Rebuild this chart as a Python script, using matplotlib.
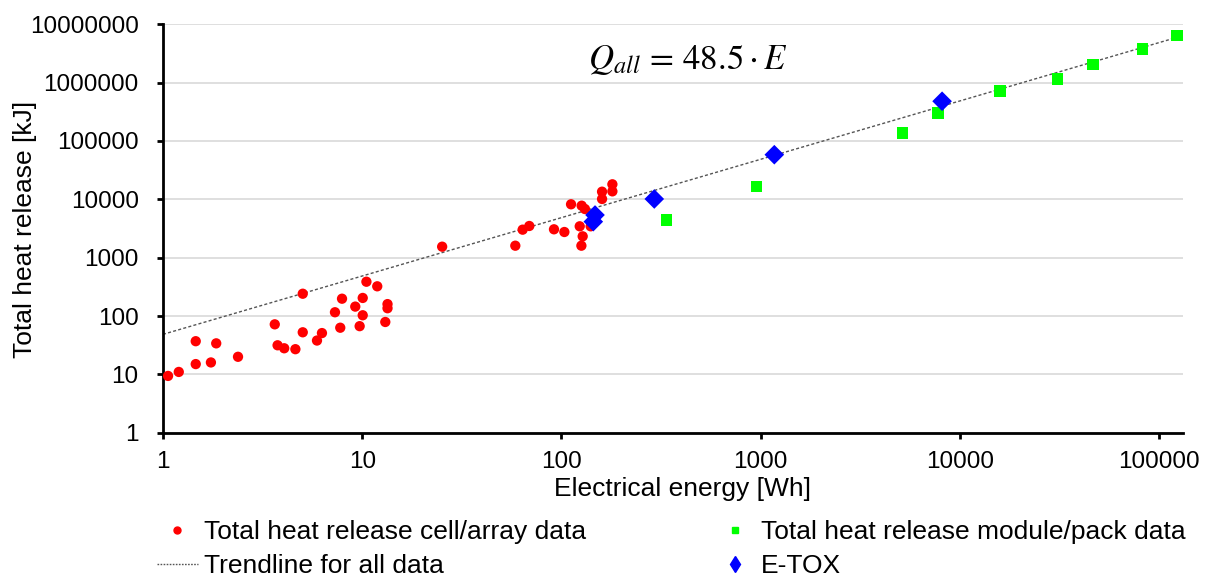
import numpy as np
import matplotlib
matplotlib.use("Agg")
import matplotlib.pyplot as plt
from matplotlib.lines import Line2D

plt.rcParams['font.family'] = ['Liberation Sans', 'DejaVu Sans']
plt.rcParams['mathtext.fontset'] = 'stix'

# Cell/array data (red)
cell_energy = [1.06, 1.20, 1.46, 1.46, 1.74, 1.85, 2.38, 3.64, 3.76, 4.06, 4.62,
               5.03, 5.03, 5.93, 6.28, 7.3, 7.76, 7.92, 9.23, 9.71, 10.06, 10.06,
               10.5, 11.9, 13.06, 13.4, 13.4,
               25.2, 58.7, 63.9, 69.0, 91.8, 103.5, 111.8, 126.4, 131.3, 123.6,
               127.9, 126.0, 140.3, 160.0, 160.0, 180.3, 180.3]
cell_heat = [9.4, 11, 15, 37, 16, 34, 20, 72, 31.5, 28, 27,
             241, 52.6, 38, 51, 116, 63, 198, 145, 67, 204, 103,
             387, 323, 79, 160, 136,
             1543, 1604, 3020, 3493, 3064, 2754, 8224, 7780, 6820, 3450,
             2322, 1604, 3450, 13520, 10140, 18100, 13700]

# Module/pack data (green)
module_energy = [336.7, 953, 5155, 7762, 15920, 30940, 46560, 82600, 123300]
module_heat = [4425, 16480, 138700, 305000, 711000, 1157000, 2060000, 3770000, 6380000]

# E-TOX data (blue)
etox_energy = [147.5, 144.6, 292.6, 1172, 8150]
etox_heat = [5390, 4140, 10140, 58200, 480000]

trend_coef = 48.5
x_min, x_max = 1, 132000
y_ticks = [1, 10, 100, 1000, 10000, 100000, 1000000, 10000000]
x_ticks = [1, 10, 100, 1000, 10000, 100000]

fig = plt.figure(figsize=(12.11, 5.80), dpi=100)
ax = fig.add_axes([163/1211, 1-432.7/580, (1183-163)/1211, (432.7-24.3)/580])

ax.set_xscale('log')
ax.set_yscale('log')
ax.set_xlim(x_min, x_max)
ax.set_ylim(1, 10000000)

ax.yaxis.grid(True, color='#d9d9d9', linewidth=1.2)
ax.xaxis.grid(False)
ax.set_axisbelow(True)

tx = np.array([x_min, x_max])
ax.plot(tx, trend_coef * tx, color='#555555', linewidth=1.0,
        dashes=(2.2, 1.6), zorder=2)

ax.scatter(cell_energy, cell_heat, s=55, marker='o', color='#ff0000',
           edgecolors='none', zorder=3)
ax.scatter(module_energy, module_heat, s=70, marker='s', color='#00ff00',
           edgecolors='none', zorder=3)
ax.scatter(etox_energy, etox_heat, s=100, marker='D', color='#0000ff',
           edgecolors='none', zorder=4)

ax.set_xticks(x_ticks)
ax.set_xticklabels([str(v) for v in x_ticks])
ax.set_yticks(y_ticks)
ax.set_yticklabels([str(v) for v in y_ticks])
ax.minorticks_off()
ax.tick_params(axis='both', which='major', direction='out', length=4.5,
               width=2, labelsize=17.5, colors='black')
ax.tick_params(axis='x', pad=9)
ax.tick_params(axis='y', pad=13)

for s in ['top', 'right']:
    ax.spines[s].set_visible(False)
for s in ['left', 'bottom']:
    ax.spines[s].set_linewidth(2)
    ax.spines[s].set_color('black')

ax.set_xlabel('Electrical energy [Wh]', fontsize=19)
ax.xaxis.set_label_coords((683-163)/(1183-163), -(477-432.7)/(432.7-24.3))
ax.set_ylabel('Total heat release [kJ]', fontsize=19)
ax.yaxis.set_label_coords(-(163-37)/(1183-163), 1-(229-24.3)/(432.7-24.3))

ax.text((688-163)/(1183-163), 1-(60-24.3)/(432.7-24.3),
        r'$Q_{all}\,=\,48.5\cdot E$', transform=ax.transAxes,
        fontsize=25, ha='center', va='center')

handles = [
    Line2D([], [], linestyle='none', marker='o', color='#ff0000', markersize=5),
    Line2D([], [], color='#555555', linewidth=1.0, dashes=(1.2, 1.0)),
    Line2D([], [], linestyle='none', marker='s', color='#00ff00', markersize=5),
    Line2D([], [], linestyle='none', marker='d', color='#0000ff', markersize=8),
]
labels = ['Total heat release cell/array data', 'Trendline for all data',
          'Total heat release module/pack data', 'E-TOX']
fig.legend(handles, labels, ncol=2, loc='upper left',
           bbox_to_anchor=(157/1211, 1-520/580), frameon=False, fontsize=19,
           handlelength=1.55, handletextpad=0.23, columnspacing=4.85,
           labelspacing=0.38, borderaxespad=0, borderpad=0)

fig.savefig('out.png', dpi=100)
